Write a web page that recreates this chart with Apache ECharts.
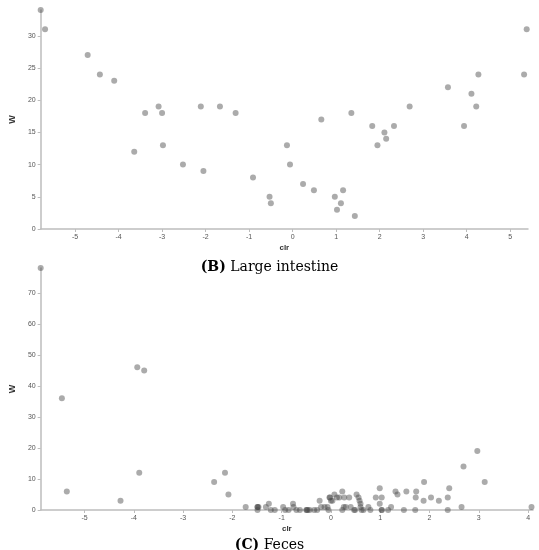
<!DOCTYPE html>
<html>
<head>
<meta charset="utf-8">
<script src="https://cdn.jsdelivr.net/npm/echarts@6/dist/echarts.min.js"></script>
<style>
html,body{margin:0;padding:0;background:#fff;}
#chart{width:539px;height:550px;}
</style>
</head>
<body>
<div id="chart"></div>
<script>
// Panel B: Large intestine
var topX = [-5.79,-5.69,-4.71,-4.43,-4.10,-3.64,-3.39,-3.08,-3.00,-2.98,-2.52,-2.11,-2.05,-1.67,-1.31,-0.91,-0.53,-0.50,
  -0.13,-0.06,0.24,0.49,0.66,0.97,1.02,1.11,1.16,1.35,1.43,1.83,1.95,2.11,2.15,2.33,2.69,3.57,3.94,4.11,4.22,4.27,5.32,5.38];
var topY = [34,31,27,24,23,12,18,19,18,13,10,19,9,19,18,8,5,4,
  13,10,7,6,17,5,3,4,6,18,2,16,13,15,14,16,19,22,16,21,19,24,24,31];
var topXTicks = [-5,-4,-3,-2,-1,0,1,2,3,4,5];
var topYTicks = [0,5,10,15,20,25,30];

// Panel C: Feces
var botX = [-5.89,-5.46,-5.36,-4.27,-3.93,-3.79,-3.89,-2.37,-2.15,-2.08,-1.73,
  -1.49,-1.49,-1.49,-1.47,-1.32,-1.26,-1.22,-1.14,
  -0.97,-0.93,-0.86,-0.77,-0.76,-0.70,-0.63,-0.50,-0.49,-0.47,
  -0.43,-0.34,-0.28,-0.23,-0.20,-0.13,-0.07,-0.05,
  -0.03,-0.02,0.00,0.03,0.07,0.12,0.17,0.23,0.27,0.37,
  0.23,0.26,0.30,0.40,0.47,0.49,0.52,0.56,0.58,0.60,0.60,0.62,0.66,0.76,0.80,
  0.91,0.99,1.03,0.99,1.03,1.03,1.16,1.22,1.31,1.35,
  1.48,1.53,1.71,1.73,1.72,1.89,1.88,2.03,2.19,2.37,2.40,2.37,2.65,2.69,2.97,3.12,4.07];
var botY = [78,36,6,3,46,45,12,9,12,5,1,
  1,1,0,1,1,2,0,0,
  1,0,0,2,1,0,0,0,0,0,
  0,0,0,3,1,1,1,0,
  4,4,3,3,5,4,4,6,4,4,
  0,1,1,1,0,0,5,4,3,2,1,0,0,1,0,
  4,7,4,2,0,0,0,1,6,5,
  0,6,0,6,4,9,3,4,3,4,7,0,1,14,19,9,1];
var botXTicks = [-5,-4,-3,-2,-1,0,1,2,3,4];
var botYTicks = [0,10,20,30,40,50,60,70];

function pairs(xs, ys){ return xs.map(function(x,i){ return [x, ys[i]]; }); }

var axisLine = {onZero:false, lineStyle:{color:'#bdbdbd', width:1.5}};
var axisTick = {lineStyle:{color:'#bdbdbd'}, length:3};
var labelStyle = {color:'#555', fontSize:7, fontFamily:'Liberation Sans'};
var nameStyle = {color:'#333', fontSize:8, fontWeight:'bold', fontFamily:'Liberation Sans'};

function xAx(gi, min, max, ticks){
  return {gridIndex:gi, type:'value', position:'bottom', min:min, max:max, name:'clr', nameLocation:'middle', nameGap:15,
    nameTextStyle:nameStyle, splitLine:{show:false}, axisLine:axisLine,
    axisTick:Object.assign({customValues:ticks}, axisTick),
    axisLabel:Object.assign({customValues:ticks, margin:5}, labelStyle)};
}
function yAx(gi, min, max, ticks){
  return {gridIndex:gi, type:'value', position:'left', min:min, max:max, name:'W', nameLocation:'middle', nameGap:19,
    nameTextStyle:Object.assign({}, nameStyle, {fontSize:9}), splitLine:{show:false}, axisLine:axisLine,
    axisTick:Object.assign({customValues:ticks}, axisTick),
    axisLabel:Object.assign({customValues:ticks, margin:5}, labelStyle)};
}

var pointStyle = {color:'#444', opacity:0.45};

var chart = echarts.init(document.getElementById('chart'), null, {renderer:'canvas'});
chart.setOption({
  animation:false,
  backgroundColor:'#fff',
  grid:[
    {left:33, top:10, width:495, height:219},
    {left:30, top:268, width:503, height:242}
  ],
  xAxis:[xAx(0,-5.79,5.41,topXTicks), xAx(1,-5.89,4.1,botXTicks)],
  yAxis:[yAx(0,0,34,topYTicks), yAx(1,0,78,botYTicks)],
  series:[
    {type:'scatter', xAxisIndex:0, yAxisIndex:0, symbolSize:6, itemStyle:pointStyle, data:pairs(topX, topY)},
    {type:'scatter', xAxisIndex:1, yAxisIndex:1, symbolSize:6, itemStyle:pointStyle, data:pairs(botX, botY)}
  ],
  title:[
    {text:'{b|(B)} Large intestine', left:'center', top:255,
      textStyle:{fontFamily:'DejaVu Serif', fontSize:14, fontWeight:'normal', color:'#000',
        rich:{b:{fontFamily:'DejaVu Serif', fontSize:14, fontWeight:'bold', color:'#000'}}}},
    {text:'{b|(C)} Feces', left:'center', top:533,
      textStyle:{fontFamily:'DejaVu Serif', fontSize:14, fontWeight:'normal', color:'#000',
        rich:{b:{fontFamily:'DejaVu Serif', fontSize:14, fontWeight:'bold', color:'#000'}}}}
  ]
});
</script>
</body>
</html>
